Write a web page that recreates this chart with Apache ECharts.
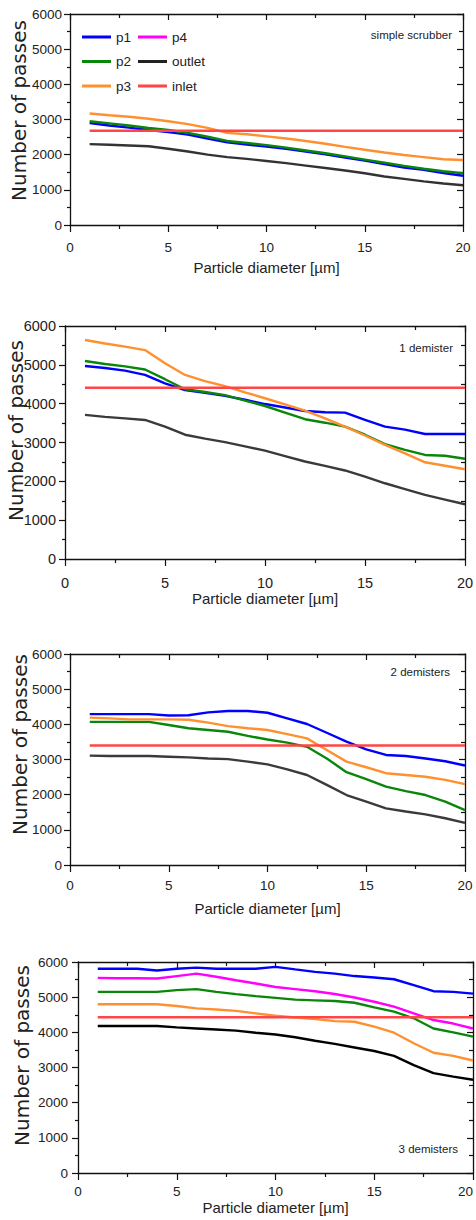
<!DOCTYPE html>
<html>
<head>
<meta charset="utf-8">
<script src="https://cdn.jsdelivr.net/npm/echarts@6/dist/echarts.min.js"></script>
<style>html,body{margin:0;padding:0;background:#fff}#c{width:476px;height:1220px}</style>
</head>
<body>
<div id="c"></div>
<script>
// ---------- data ----------
const diameters = [1,2,3,4,5,6,7,8,9,10,11,12,13,14,15,16,17,18,19,20];

const simpleP1     = [2900,2830,2770,2700,2640,2570,2460,2350,2290,2230,2170,2090,2010,1920,1830,1730,1630,1570,1480,1400];
const simpleP2     = [2950,2890,2830,2760,2700,2620,2510,2390,2330,2270,2200,2120,2040,1950,1860,1770,1680,1600,1530,1470];
const simpleP3     = [3170,3120,3080,3020,2950,2870,2760,2620,2580,2520,2460,2390,2310,2220,2140,2060,1990,1930,1870,1850];
const simpleOutlet = [2300,2280,2260,2240,2170,2090,2000,1930,1880,1820,1760,1690,1620,1550,1470,1380,1310,1240,1180,1130];
const simpleInlet  = [2680,2680,2680,2680,2680,2680,2680,2680,2680,2680,2680,2680,2680,2680,2680,2680,2680,2680,2680,2680];

const oneP1     = [4970,4920,4850,4740,4520,4350,4280,4200,4100,3990,3900,3810,3780,3770,3580,3410,3330,3220,3220,3220];
const oneP2     = [5100,5020,4960,4880,4630,4370,4300,4220,4080,3940,3770,3600,3510,3410,3200,2960,2810,2680,2660,2580];
const oneP3     = [5640,5550,5470,5380,5040,4740,4580,4450,4290,4140,3980,3820,3620,3410,3180,2940,2720,2490,2400,2310];
const oneOutlet = [3710,3660,3620,3580,3410,3200,3100,3010,2900,2790,2650,2510,2400,2280,2120,1950,1800,1650,1530,1410];
const oneInlet  = [4410,4410,4410,4410,4410,4410,4410,4410,4410,4410,4410,4410,4410,4410,4410,4410,4410,4410,4410,4410];

const twoP1     = [4290,4290,4290,4290,4250,4260,4340,4380,4380,4330,4170,4010,3760,3510,3290,3130,3100,3030,2950,2830];
const twoP2     = [4070,4070,4070,4070,3980,3890,3840,3790,3670,3570,3480,3360,3030,2640,2440,2230,2100,1990,1800,1560];
const twoP3     = [4190,4170,4140,4140,4140,4130,4050,3950,3890,3840,3720,3600,3270,2940,2780,2610,2560,2510,2420,2300];
const twoOutlet = [3110,3100,3100,3100,3080,3060,3030,3010,2940,2860,2720,2560,2280,1990,1800,1610,1520,1440,1330,1200];
const twoInlet  = [3400,3400,3400,3400,3400,3400,3400,3400,3400,3400,3400,3400,3400,3400,3400,3400,3400,3400,3400,3400];

const threeP1     = [5810,5810,5810,5760,5810,5840,5810,5810,5810,5860,5790,5720,5670,5600,5560,5510,5340,5170,5150,5100];
const threeP2     = [5150,5150,5150,5150,5200,5230,5150,5085,5030,4980,4930,4910,4890,4840,4710,4590,4400,4110,4000,3880];
const threeP3     = [4800,4800,4800,4800,4750,4680,4650,4610,4540,4470,4420,4380,4320,4300,4160,3990,3690,3420,3330,3200];
const threeP4     = [5550,5540,5540,5530,5600,5670,5580,5480,5390,5290,5230,5170,5090,4990,4870,4730,4540,4350,4250,4110];
const threeOutlet = [4180,4180,4180,4180,4140,4110,4080,4050,3990,3940,3860,3760,3670,3570,3470,3330,3070,2840,2740,2650];
const threeInlet  = [4430,4430,4430,4430,4430,4430,4430,4430,4430,4430,4430,4430,4430,4430,4430,4430,4430,4430,4430,4430];

const panelNotes = ['simple scrubber', '1 demister', '2 demisters', '3 demisters'];
const xAxisTitle = 'Particle diameter [µm]';
const yAxisTitle = 'Number of passes';
const legendCol1 = ['p1', 'p2', 'p3'];
const legendCol2 = ['p4', 'outlet', 'inlet'];

const panelSeries = [
  [['p1', simpleP1], ['p2', simpleP2], ['p3', simpleP3], ['outlet', simpleOutlet], ['inlet', simpleInlet]],
  [['p1', oneP1], ['p2', oneP2], ['p3', oneP3], ['outlet', oneOutlet], ['inlet', oneInlet]],
  [['p1', twoP1], ['p2', twoP2], ['p3', twoP3], ['outlet', twoOutlet], ['inlet', twoInlet]],
  [['p1', threeP1], ['p4', threeP4], ['p2', threeP2], ['p3', threeP3], ['outlet', threeOutlet], ['inlet', threeInlet]]
];

// ---------- styling / layout ----------
const SANS = "'Liberation Sans', Arial, sans-serif";
const WIDE = "'DejaVu Sans', Verdana, sans-serif";
const TXT = '#222';
const AX = '#111';
const colors = { p1: '#0000ff', p2: '#0a860a', p3: '#ff9030', p4: '#ff00ff', outlet: '#222222', inlet: '#ff4545' };

const layout = [
  { grid: { left: 70, top: 14, width: 393, height: 211 }, tickFont: 13.5, xMargin: 15, yMargin: 8, xNameGap: 35, yNameGap: 41, yShift: 18, note: { x: 452, y: 35 }, outlet: '#333333', alignMax: 'center' },
  { grid: { left: 65, top: 326, width: 400, height: 233 }, tickFont: 14.5, xMargin: 16.5, yMargin: 9, xNameGap: 32, yNameGap: 39, yShift: 24, note: { x: 453, y: 348 }, outlet: '#3a3a3a', alignMax: 'center' },
  { grid: { left: 70, top: 654, width: 395, height: 211 }, tickFont: 13.5, xMargin: 13, yMargin: 8, xNameGap: 36, yNameGap: 40, yShift: 30, note: { x: 450, y: 672 }, outlet: '#3a3a3a', alignMax: 'center' },
  { grid: { left: 78, top: 962, width: 395, height: 211 }, tickFont: 13.5, xMargin: 11, yMargin: 10, xNameGap: 27, yNameGap: 46, yShift: 24, note: { x: 458, y: 1149 }, outlet: '#000000', alignMax: 'right' }
];

const axisLine = { show: true, onZero: false, lineStyle: { color: AX, width: 1.3 } };
const plain = v => String(v);

const grids = [], xAxes = [], yAxes = [], series = [], graphics = [];
layout.forEach((L, k) => {
  grids.push(Object.assign({ outerBoundsMode: 'none', containLabel: false }, L.grid));
  const labelStyle = { fontFamily: SANS, fontSize: L.tickFont, color: TXT, formatter: plain };
  // bottom x
  xAxes.push({
    type: 'value', gridIndex: k, position: 'bottom', min: 0, max: 20, interval: 5,
    axisLine, splitLine: { show: false },
    axisTick: { show: true, inside: false, length: 7, lineStyle: { color: AX, width: 1.2 } },
    minorTick: { show: true, splitNumber: 2, length: 4, lineStyle: { color: AX, width: 1.2 } },
    axisLabel: Object.assign({ margin: L.xMargin, alignMaxLabel: L.alignMax }, labelStyle),
    name: xAxisTitle, nameLocation: 'middle', nameGap: L.xNameGap, nameMoveOverlap: false,
    nameTextStyle: { fontFamily: SANS, fontSize: 15, color: TXT }
  });
  // top x (mirror)
  xAxes.push({
    type: 'value', gridIndex: k, position: 'top', min: 0, max: 20, interval: 5,
    axisLine, splitLine: { show: false }, axisLabel: { show: false },
    axisTick: { show: true, inside: true, length: 6, lineStyle: { color: AX, width: 1.2 } },
    minorTick: { show: true, splitNumber: 2, length: 4, lineStyle: { color: AX, width: 1.2 } }
  });
  // left y
  yAxes.push({
    type: 'value', gridIndex: k, position: 'left', min: 0, max: 6000, interval: 1000,
    axisLine, splitLine: { show: false },
    axisTick: { show: true, inside: false, length: 6, lineStyle: { color: AX, width: 1.2 } },
    minorTick: { show: true, splitNumber: 2, length: 3, lineStyle: { color: AX, width: 1.2 } },
    axisLabel: Object.assign({ margin: L.yMargin }, labelStyle),
    name: yAxisTitle, nameLocation: 'middle', nameGap: L.yNameGap, nameMoveOverlap: false,
    nameTextStyle: { fontFamily: WIDE, fontSize: 20, color: TXT, padding: [0, 0, 0, L.yShift] }
  });
  // right y (mirror)
  yAxes.push({
    type: 'value', gridIndex: k, position: 'right', min: 0, max: 6000, interval: 1000,
    axisLine, splitLine: { show: false }, axisLabel: { show: false },
    axisTick: { show: true, inside: true, length: 6, lineStyle: { color: AX, width: 1.2 } },
    minorTick: { show: true, splitNumber: 2, length: 4, lineStyle: { color: AX, width: 1.2 } }
  });
  panelSeries[k].forEach(([name, vals]) => {
    const c = name === 'outlet' ? L.outlet : colors[name];
    series.push({
      type: 'line', name, xAxisIndex: 2 * k, yAxisIndex: 2 * k,
      data: diameters.map((d, i) => [d, vals[i]]),
      symbol: 'none', animation: false, color: c,
      lineStyle: { width: 2.4, color: c }
    });
  });
  graphics.push({
    type: 'text', x: L.note.x, y: L.note.y,
    style: { text: panelNotes[k], fill: TXT, font: '11.5px ' + SANS, textAlign: 'right', textVerticalAlign: 'middle' }
  });
});

const legendData = names => names.map(n => ({ name: n, itemStyle: { color: colors[n] } }));
const legendBase = {
  orient: 'vertical', top: 25, itemWidth: 29, itemHeight: 3, itemGap: 10.5, icon: 'rect',
  textStyle: { fontFamily: SANS, fontSize: 13.5, color: TXT }
};

const chart = echarts.init(document.getElementById('c'), null, { renderer: 'svg' });
chart.setOption({
  animation: false,
  backgroundColor: '#fff',
  grid: grids, xAxis: xAxes, yAxis: yAxes, series,
  legend: [
    Object.assign({}, legendBase, { left: 77, data: legendData(legendCol1) }),
    Object.assign({}, legendBase, { left: 133, data: legendData(legendCol2) })
  ],
  graphic: graphics
});
</script>
</body>
</html>
